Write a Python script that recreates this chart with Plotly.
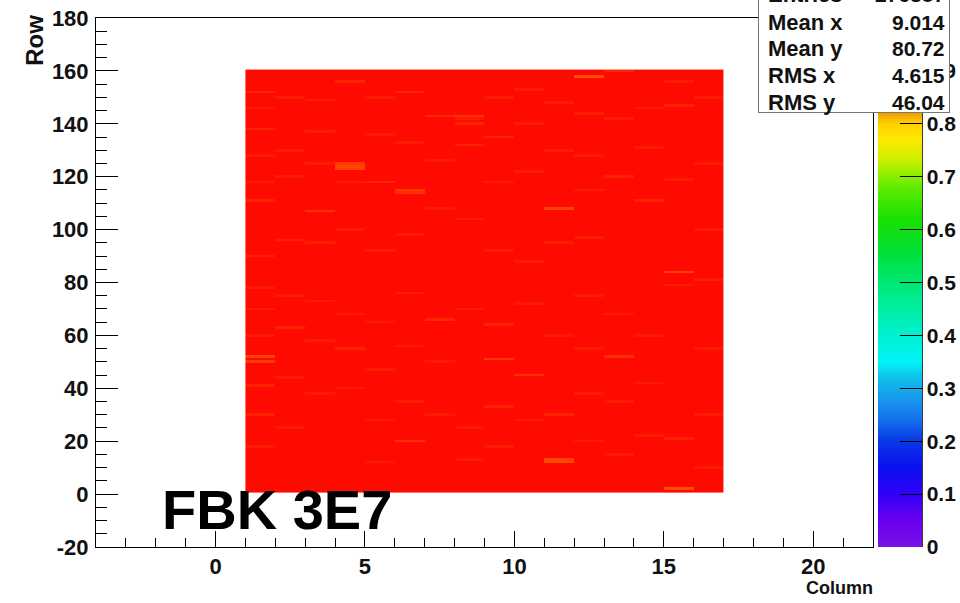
import plotly.graph_objects as go

# ---------------- data ----------------
columns = list(range(1, 17))          # column bins, lower edges 1..16
rows = list(range(1, 161))            # row numbers 1..160
base_value = 0.985                    # uniform red level of the map

# cells that look lighter (orange-ish) than the red background
spot_cols = [4, 4, 4, 3, 6, 6, 7, 8, 1, 1, 9, 11, 11, 12, 11, 15, 15, 13, 10, 6, 7,
             1, 1, 1, 1, 1, 1, 1, 2, 2, 2, 2, 3, 3, 3, 3, 4, 4, 4, 5, 5, 5, 5, 6, 6, 6,
             7, 7, 8, 8, 8, 8, 9, 9, 9, 9, 10, 10, 10, 10, 11, 11, 11, 12, 12, 12, 12,
             13, 13, 13, 14, 14, 14, 15, 15, 15, 16, 16, 16,
             1, 1, 1, 1, 1, 1, 2, 2, 2, 2, 3, 3, 3, 4, 4, 4, 5, 5, 5, 5, 6, 6, 6, 7, 7,
             8, 8, 8, 9, 9, 9, 10, 10, 11, 11, 12, 12, 12, 12, 13, 13, 13, 14, 14, 14,
             15, 15, 16, 16, 16, 16]
spot_rows = [124, 123, 125, 107, 114, 115, 143, 143, 52, 50, 51, 12, 13, 158, 108, 84, 2, 52, 45, 20, 66,
             152, 146, 138, 128, 118, 111, 90, 150, 130, 120, 96, 149, 137, 125, 95, 156, 118, 100,
             150, 136, 118, 92, 152, 133, 98, 126, 108, 142, 140, 132, 104, 150, 135, 118, 92,
             153, 140, 122, 88, 148, 130, 95, 144, 128, 115, 97, 160, 142, 120, 146, 131, 111,
             156, 147, 119, 150, 125, 100,
             78, 70, 60, 41, 30, 18, 75, 63, 44, 25, 73, 58, 38, 68, 55, 40, 65, 47, 28, 12,
             76, 56, 35, 50, 30, 70, 25, 13, 64, 33, 18, 72, 28, 60, 30, 75, 55, 38, 20,
             68, 35, 15, 60, 42, 22, 79, 21, 81, 55, 30, 10]
spot_vals = [0.91, 0.91, 0.92, 0.93, 0.93, 0.92, 0.94, 0.93, 0.91, 0.92, 0.92, 0.90, 0.91, 0.90, 0.91, 0.91, 0.90, 0.93, 0.93, 0.93, 0.94,
             0.95, 0.96, 0.95, 0.96, 0.96, 0.95, 0.95, 0.96, 0.96, 0.96, 0.95, 0.96, 0.96, 0.96, 0.96, 0.95, 0.96, 0.96,
             0.96, 0.96, 0.95, 0.96, 0.95, 0.96, 0.96, 0.96, 0.96, 0.96, 0.95, 0.95, 0.96, 0.96, 0.95, 0.96, 0.96,
             0.96, 0.96, 0.96, 0.96, 0.96, 0.96, 0.96, 0.96, 0.96, 0.96, 0.96, 0.95, 0.96, 0.95, 0.96, 0.96, 0.95,
             0.96, 0.95, 0.96, 0.96, 0.96, 0.96,
             0.96, 0.96, 0.96, 0.95, 0.95, 0.96, 0.96, 0.95, 0.96, 0.96, 0.96, 0.96, 0.96, 0.96, 0.95, 0.96, 0.96, 0.96, 0.96, 0.96,
             0.96, 0.96, 0.96, 0.96, 0.96, 0.96, 0.96, 0.96, 0.95, 0.95, 0.96, 0.96, 0.96, 0.96, 0.95, 0.96, 0.96, 0.96, 0.96,
             0.96, 0.96, 0.96, 0.96, 0.96, 0.96, 0.96, 0.95, 0.96, 0.96, 0.96, 0.96]

stats_labels = ["Entries", "Mean x", "Mean y", "RMS x", "RMS y"]
stats_values = ["276387", "9.014", "80.72", "4.615", "46.04"]

x_ticks = [0, 5, 10, 15, 20]
y_ticks = [-20, 0, 20, 40, 60, 80, 100, 120, 140, 160, 180]
y_labels = ["-20", "0", "20", "40", "60", "80", "100", "120", "140", "160", "180"]
cb_ticks = [0, 0.1, 0.2, 0.3, 0.4, 0.5, 0.6, 0.7, 0.8, 0.9, 1.0]
cb_labels = ["0", "0.1", "0.2", "0.3", "0.4", "0.5", "0.6", "0.7", "0.8", "0.9", "1"]

# ---------------- build the grid ----------------
z = [[base_value for _ in columns] for _ in rows]
for c, r, v in zip(spot_cols, spot_rows, spot_vals):
    z[rows.index(r)][columns.index(c)] = v
x_centers = [c + 0.5 for c in columns]

colorscale = [
    [0.00, "#7a10e6"], [0.05, "#6a00ee"], [0.10, "#3000f8"], [0.15, "#0a10ee"],
    [0.20, "#0838e6"], [0.24, "#1470ea"], [0.28, "#1898ee"], [0.32, "#10c0e8"],
    [0.35, "#00f4f8"], [0.40, "#00f0d0"], [0.47, "#00ec90"], [0.55, "#00e040"],
    [0.62, "#18e000"], [0.68, "#60ec00"], [0.73, "#c8f000"], [0.77, "#ffe800"],
    [0.80, "#ffd000"], [0.82, "#f0a000"], [0.87, "#ff6800"], [0.93, "#ff3000"],
    [1.00, "#ff0000"],
]

FONT = "Liberation Sans, Arial, Helvetica, sans-serif"
BOLD22 = dict(family=FONT, size=22, color="#111", weight="bold")

fig = go.Figure()
fig.add_trace(go.Heatmap(
    x=x_centers, y=rows, z=z,
    zmin=0, zmax=1, colorscale=colorscale, zsmooth=False,
    hoverinfo="skip",
    colorbar=dict(
        x=1.0064, xanchor="left", xref="paper",
        y=0.5, yanchor="middle", len=1.0, lenmode="fraction",
        thickness=44, thicknessmode="pixels",
        outlinewidth=0,
        tickmode="array", tickvals=cb_ticks, ticktext=cb_labels,
        ticks="inside", ticklen=22, tickcolor="black", tickwidth=1,
        tickfont=dict(family=FONT, size=21, color="#111", weight="bold"),
        ticklabelposition="outside", ticklabeloverflow="allow",
        xpad=0, ypad=0,
    ),
    showscale=True,
))

axis_common = dict(
    showgrid=False, zeroline=False, showline=True, linecolor="black",
    linewidth=1, mirror=True, ticks="inside", tickcolor="black",
    tickfont=BOLD22, ticklabeloverflow="allow",
)
fig.update_xaxes(range=[-4, 22], tickmode="array", tickvals=x_ticks, ticklen=16,
                 minor=dict(dtick=1, ticks="inside", ticklen=9, tickcolor="black"),
                 **axis_common)
fig.update_yaxes(range=[-20, 180], tickmode="array", tickvals=y_ticks, ticktext=y_labels,
                 ticklen=22,
                 minor=dict(dtick=5, ticks="inside", ticklen=11, tickcolor="black"),
                 ticklabelstandoff=2,
                 **axis_common)

# colorbar right-edge axis line
fig.add_shape(type="line", xref="paper", yref="paper", x0=1.0631, x1=1.0631, y0=0, y1=1,
              line=dict(color="black", width=1.5))

annotations = []
# axis titles
annotations.append(dict(text="Row", xref="paper", yref="paper", x=-0.0785, y=1.009,
                        xanchor="center", yanchor="top", textangle=-90, showarrow=False,
                        font=dict(family=FONT, size=24, color="#111", weight="bold")))
annotations.append(dict(text="Column", xref="paper", yref="paper", x=1.0026, y=-0.0775,
                        xanchor="right", yanchor="middle", showarrow=False,
                        font=dict(family=FONT, size=18, color="#111", weight="bold")))
# label
annotations.append(dict(text="FBK 3E7", xref="paper", yref="paper", x=0.083, y=0.07,
                        xanchor="left", yanchor="middle", showarrow=False,
                        font=dict(family=FONT, size=56, color="black", weight="bold")))
# stats box
annotations.append(dict(text=" ", xref="paper", yref="paper", x=0.852, y=0.820,
                        xanchor="left", yanchor="bottom", showarrow=False,
                        width=190, height=130, bgcolor="white", bordercolor="#777",
                        borderwidth=1, borderpad=0))
stat_y = [1.0445, 0.9924, 0.9414, 0.8904, 0.8412]
for lab, val, yy in zip(stats_labels, stats_values, stat_y):
    annotations.append(dict(text=lab, xref="paper", yref="paper", x=0.862, y=yy,
                            xanchor="left", yanchor="middle", showarrow=False,
                            font=dict(family=FONT, size=22, color="#111", weight="bold")))
    annotations.append(dict(text=val, xref="paper", yref="paper", x=1.095, y=yy,
                            xanchor="right", yanchor="middle", showarrow=False,
                            font=dict(family=FONT, size=21, color="#111", weight="bold")))

fig.update_layout(
    width=960, height=603,
    margin=dict(l=96, r=87, t=18, b=56, autoexpand=False),
    paper_bgcolor="white", plot_bgcolor="white",
    annotations=annotations,
    showlegend=False,
)

fig.write_html("out.html", config={"displayModeBar": False},
               post_script="document.body.style.margin='0';document.body.style.overflow='hidden';")
